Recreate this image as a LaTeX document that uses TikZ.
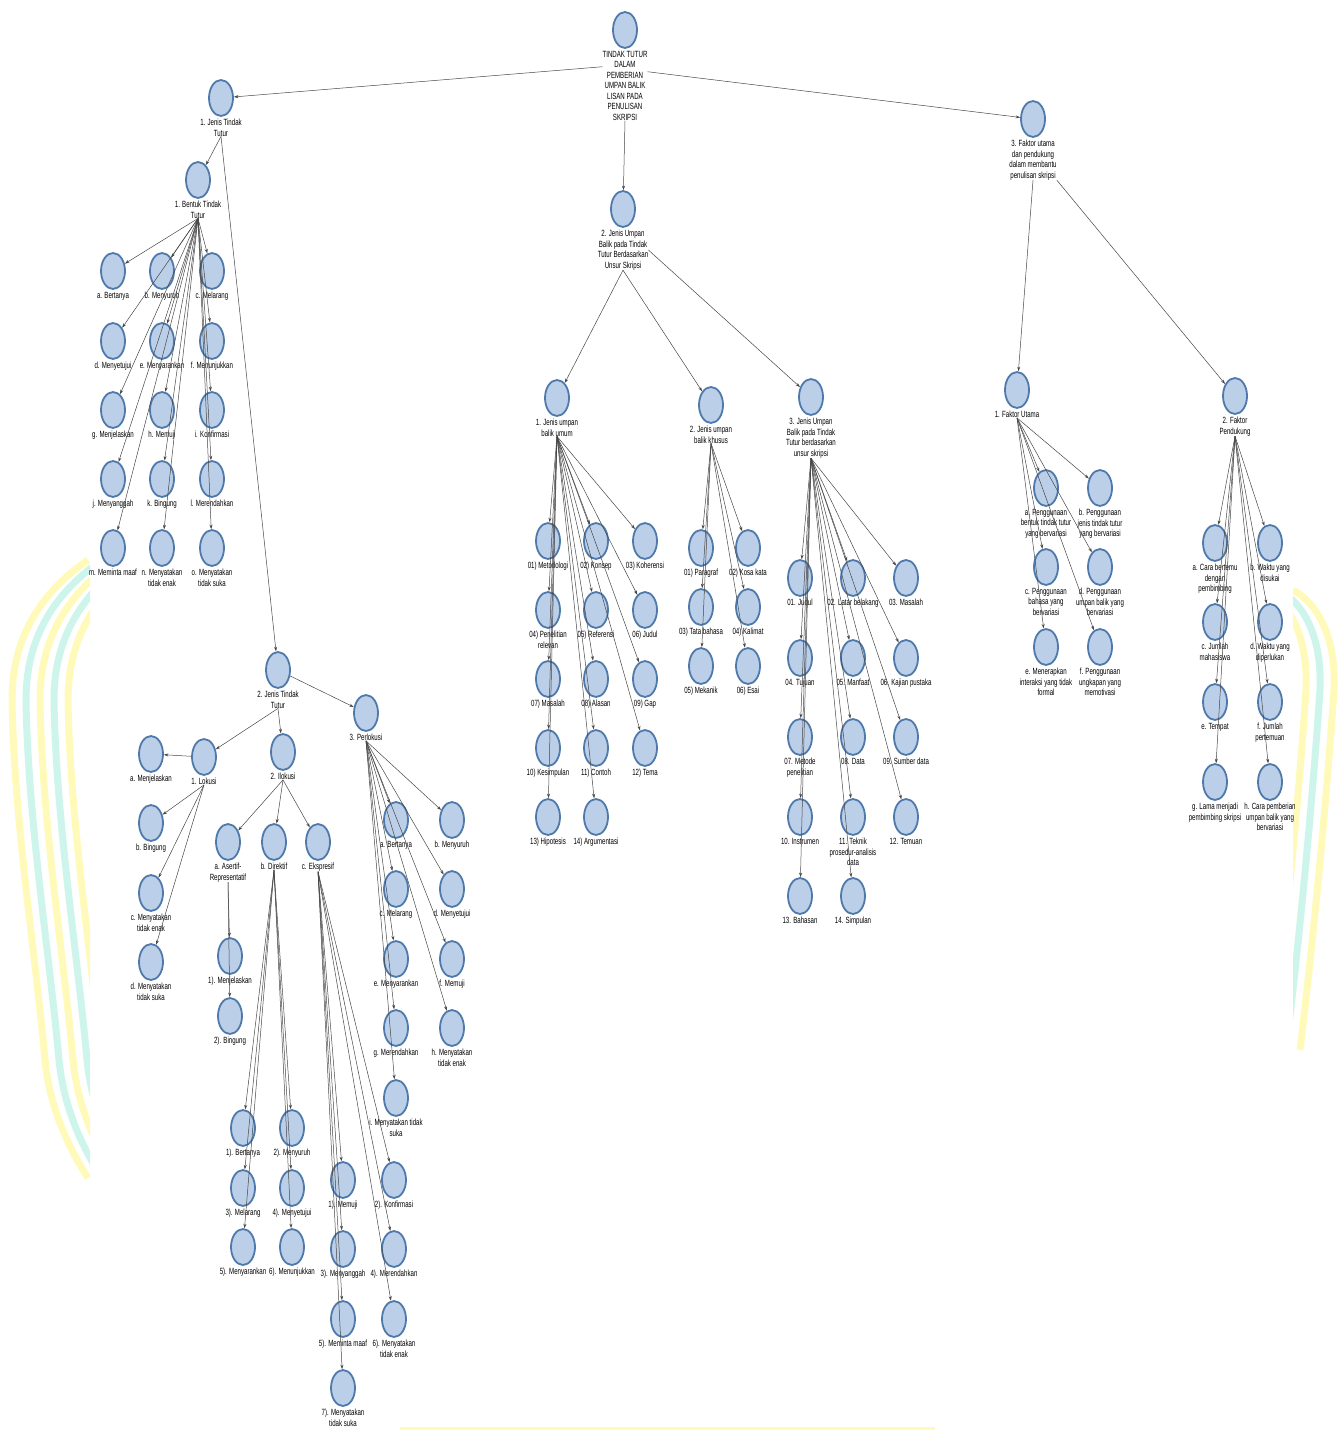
\documentclass[tikz,border=0pt]{standalone}
\usepackage{fontspec}
\newfontfamily\labfont[FakeStretch=0.68]{Liberation Sans}
\usetikzlibrary{shapes.geometric,arrows.meta}
\definecolor{cfill}{RGB}{188,207,232}
\definecolor{cdraw}{RGB}{79,121,170}
\definecolor{wmy}{RGB}{255,250,185}
\definecolor{wmc}{RGB}{205,245,235}
\definecolor{edgec}{RGB}{70,70,70}
\newcommand{\cn}[4]{\node[cnode] (#1) at (#2,#3) {}; \node[lab] (#1-l) at ([yshift=-2pt]#1.south) {#4};}
\newcommand{\ed}[2]{\draw[edge] (#1-l.south) -- (#2);}
\begin{document}
\begin{tikzpicture}[x=1pt,y=-1pt,
  cnode/.style={ellipse, fill=cfill, draw=cdraw, line width=1.8pt, minimum width=24pt, minimum height=36pt, inner sep=0pt},
  lab/.style={anchor=north, inner sep=0pt, align=center, font=\labfont\fontsize{9}{10.5}\selectfont},
  edge/.style={draw=edgec, line width=0.5pt, -{Stealth[length=4.5pt,width=3pt]}},
  wm/.style={line width=7pt}]
\useasboundingbox (0,0) rectangle (1342,1431);
% watermark
\begin{scope}
\clip (0,0) rectangle (90,1431);
\foreach \s/\c in {0/wmy,14/wmc,28/wmy,42/wmc,56/wmy}{
 \draw[wm,\c,xshift=\s pt] (88,560) .. controls (30,600) and (12,650) .. (12,700) .. controls (14,820) and (35,950) .. (45,1060) .. controls (50,1110) and (70,1150) .. (88,1178);
}
\end{scope}
\begin{scope}
\clip (1293,0) rectangle (1342,1431);
\foreach \s/\c in {0/wmy,-14/wmc,-28/wmy}{
 \draw[wm,\c,xshift=\s pt] (1293,590) .. controls (1320,605) and (1336,640) .. (1334,690) .. controls (1325,820) and (1312,950) .. (1300,1050);
}
\end{scope}
\draw[wmy,line width=3pt] (400,1428) -- (935,1428);

% nodes
\cn{r}{625}{30}{TINDAK TUTUR\\DALAM\\PEMBERIAN\\UMPAN BALIK\\LISAN PADA\\PENULISAN\\SKRIPSI}
\cn{a}{221}{98}{1. Jenis Tindak\\Tutur}
\cn{b}{623}{209}{2. Jenis Umpan\\Balik pada Tindak\\Tutur Berdasarkan\\Unsur Skripsi}
\cn{c}{1033}{119}{3. Faktor utama\\dan pendukung\\dalam membantu\\penulisan skripsi}

\cn{a1}{198}{180}{1. Bentuk Tindak\\Tutur}
\cn{a2}{278}{670}{2. Jenis Tindak\\Tutur}

\cn{a1a}{113}{271}{a. Bertanya}
\cn{a1b}{162}{271}{b. Menyuruh}
\cn{a1c}{212}{271}{c. Melarang}
\cn{a1d}{113}{341}{d. Menyetujui}
\cn{a1e}{162}{341}{e. Menyarankan}
\cn{a1f}{212}{341}{f. Menunjukkan}
\cn{a1g}{113}{410}{g. Menjelaskan}
\cn{a1h}{162}{410}{h. Memuji}
\cn{a1i}{212}{410}{i. Konfirmasi}
\cn{a1j}{113}{479}{j. Menyanggah}
\cn{a1k}{162}{479}{k. Bingung}
\cn{a1l}{212}{479}{l. Merendahkan}
\cn{a1m}{113}{548}{m. Meminta maaf}
\cn{a1n}{162}{548}{n. Menyatakan\\tidak enak}
\cn{a1o}{212}{548}{o. Menyatakan\\tidak suka}

\cn{lo}{204}{757}{1. Lokusi}
\cn{il}{283}{752}{2. Ilokusi}
\cn{pe}{366}{713}{3. Perlokusi}

\cn{loa}{151}{754}{a. Menjelaskan}
\cn{lob}{151}{823}{b. Bingung}
\cn{loc}{151}{893}{c. Menyatakan\\tidak enak}
\cn{lod}{151}{962}{d. Menyatakan\\tidak suka}

\cn{ila}{228}{842}{a. Asertif-\\Representatif}
\cn{ilb}{274}{842}{b. Direktif}
\cn{ilc}{318}{842}{c. Ekspresif}

\cn{asa}{230}{956}{1). Menjelaskan}
\cn{asb}{230}{1016}{2). Bingung}

\cn{dia}{243}{1128}{1). Bertanya}
\cn{dib}{292}{1128}{2). Menyuruh}
\cn{dic}{243}{1188}{3). Melarang}
\cn{did}{292}{1188}{4). Menyetujui}
\cn{die}{243}{1247}{5). Menyarankan}
\cn{dif}{292}{1247}{6). Menunjukkan}

\cn{eka}{343}{1180}{1). Memuji}
\cn{ekb}{394}{1180}{2). Konfirmasi}
\cn{ekc}{343}{1249}{3). Menyanggah}
\cn{ekd}{394}{1249}{4). Merendahkan}
\cn{eke}{343}{1319}{5). Meminta maaf}
\cn{ekf}{394}{1319}{6). Menyatakan\\tidak enak}
\cn{ekg}{343}{1388}{7). Menyatakan\\tidak suka}

\cn{pea}{396}{820}{a. Bertanya}
\cn{peb}{452}{820}{b. Menyuruh}
\cn{pec}{396}{889}{c. Melarang}
\cn{ped}{452}{889}{d. Menyetujui}
\cn{pee}{396}{959}{e. Menyarankan}
\cn{pef}{452}{959}{f. Memuji}
\cn{peg}{396}{1028}{g. Merendahkan}
\cn{peh}{452}{1028}{h. Menyatakan\\tidak enak}
\cn{pei}{396}{1098}{i. Menyatakan tidak\\suka}

\cn{b1}{557}{398}{1. Jenis umpan\\balik umum}
\cn{b2}{711}{405}{2. Jenis umpan\\balik khusus}
\cn{b3}{811}{397}{3. Jenis Umpan\\Balik pada Tindak\\Tutur berdasarkan\\unsur skripsi}

\cn{b1a}{548}{541}{01) Metodologi}
\cn{b1b}{596}{541}{02) Konsep}
\cn{b1c}{645}{541}{03) Koherensi}
\cn{b1d}{548}{610}{04) Penelitian\\relevan}
\cn{b1e}{596}{610}{05) Referensi}
\cn{b1f}{645}{610}{06) Judul}
\cn{b1g}{548}{679}{07) Masalah}
\cn{b1h}{596}{679}{08) Alasan}
\cn{b1i}{645}{679}{09) Gap}
\cn{b1j}{548}{748}{10) Kesimpulan}
\cn{b1k}{596}{748}{11) Contoh}
\cn{b1l}{645}{748}{12) Tema}
\cn{b1m}{548}{817}{13) Hipotesis}
\cn{b1n}{596}{817}{14) Argumentasi}

\cn{b2a}{701}{548}{01) Paragraf}
\cn{b2b}{748}{548}{02) Kosa kata}
\cn{b2c}{701}{607}{03) Tata bahasa}
\cn{b2d}{748}{607}{04) Kalimat}
\cn{b2e}{701}{666}{05) Mekanik}
\cn{b2f}{748}{666}{06) Esai}

\cn{b3a}{800}{578}{01. Judul}
\cn{b3b}{853}{578}{02. Latar belakang}
\cn{b3c}{906}{578}{03. Masalah}
\cn{b3d}{800}{658}{04. Tujuan}
\cn{b3e}{853}{658}{05. Manfaat}
\cn{b3f}{906}{658}{06. Kajian pustaka}
\cn{b3g}{800}{737}{07. Metode\\penelitian}
\cn{b3h}{853}{737}{08. Data}
\cn{b3i}{906}{737}{09. Sumber data}
\cn{b3j}{800}{817}{10. Instrumen}
\cn{b3k}{853}{817}{11. Teknik\\prosedur-analisis\\data}
\cn{b3l}{906}{817}{12. Temuan}
\cn{b3m}{800}{896}{13. Bahasan}
\cn{b3n}{853}{896}{14. Simpulan}

\cn{c1}{1017}{390}{1. Faktor Utama}
\cn{c2}{1235}{396}{2. Faktor\\Pendukung}

\cn{c1a}{1046}{488}{a. Penggunaan\\bentuk tindak tutur\\yang bervariasi}
\cn{c1b}{1100}{488}{b. Penggunaan\\jenis tindak tutur\\yang bervariasi}
\cn{c1c}{1046}{567}{c. Penggunaan\\bahasa yang\\bervariasi}
\cn{c1d}{1100}{567}{d. Penggunaan\\umpan balik yang\\bervariasi}
\cn{c1e}{1046}{647}{e. Menerapkan\\interaksi yang tidak\\formal}
\cn{c1f}{1100}{647}{f. Penggunaan\\ungkapan yang\\memotivasi}

\cn{c2a}{1215}{543}{a. Cara bertemu\\dengan\\pembimbing}
\cn{c2b}{1270}{543}{b. Waktu yang\\disukai}
\cn{c2c}{1215}{622}{c. Jumlah\\mahasiswa}
\cn{c2d}{1270}{622}{d. Waktu yang\\diperlukan}
\cn{c2e}{1215}{702}{e. Tempat}
\cn{c2f}{1270}{702}{f. Jumlah\\pertemuan}
\cn{c2g}{1215}{782}{g. Lama menjadi\\pembimbing skripsi}
\cn{c2h}{1270}{782}{h. Cara pemberian\\umpan balik yang\\bervariasi}

% edges
\draw[edge] ([yshift=19pt]r-l.west) -- (a);
\draw[edge] ([yshift=14pt]r-l.east) -- (c);
\ed{r}{b}
\ed{a}{a1}
\ed{a}{a2}
\foreach \t in {a1a,a1b,a1c,a1d,a1e,a1f,a1g,a1h,a1i,a1j,a1k,a1l,a1m,a1n,a1o}{\ed{a1}{\t}}
\ed{a2}{lo}
\ed{a2}{il}
\draw[edge] (a2) -- (pe);
\draw[edge] (lo) -- (loa);
\foreach \t in {lob,loc,lod}{\ed{lo}{\t}}
\foreach \t in {ila,ilb,ilc}{\ed{il}{\t}}
\foreach \t in {asa,asb}{\ed{ila}{\t}}
\foreach \t in {dia,dib,dic,did,die,dif}{\ed{ilb}{\t}}
\foreach \t in {eka,ekb,ekc,ekd,eke,ekf,ekg}{\ed{ilc}{\t}}
\foreach \t in {pea,peb,pec,ped,pee,pef,peg,peh,pei}{\ed{pe}{\t}}
\ed{b}{b1}
\ed{b}{b2}
\draw[edge] (b-l.east) -- (b3);
\foreach \t in {b1a,b1b,b1c,b1d,b1e,b1f,b1g,b1h,b1i,b1j,b1k,b1l,b1m,b1n}{\ed{b1}{\t}}
\foreach \t in {b2a,b2b,b2c,b2d,b2e,b2f}{\ed{b2}{\t}}
\foreach \t in {b3a,b3b,b3c,b3d,b3e,b3f,b3g,b3h,b3i,b3j,b3k,b3l,b3m,b3n}{\ed{b3}{\t}}
\ed{c}{c1}
\draw[edge] (c-l.south east) -- (c2);
\foreach \t in {c1a,c1b,c1c,c1d,c1e,c1f}{\ed{c1}{\t}}
\foreach \t in {c2a,c2b,c2c,c2d,c2e,c2f,c2g,c2h}{\ed{c2}{\t}}
\end{tikzpicture}
\end{document}
